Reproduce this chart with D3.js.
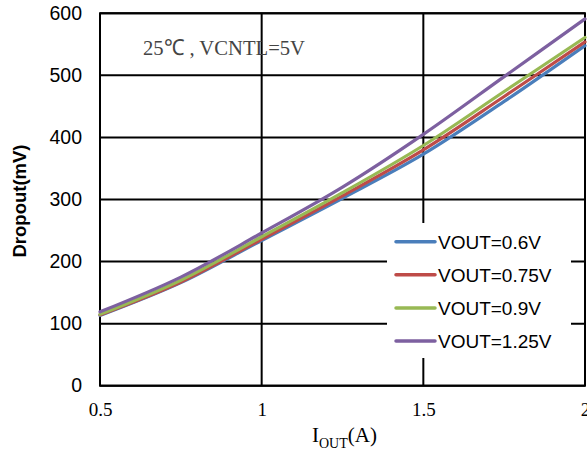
<!DOCTYPE html>
<html>
<head>
<meta charset="utf-8">
<script src="https://cdn.jsdelivr.net/npm/d3@7/dist/d3.min.js"></script>
<style>
  html, body { margin: 0; padding: 0; background: #fff; }
  svg { display: block; }
</style>
</head>
<body>
<svg id="chart" width="587" height="451"></svg>
<script>
// Output current (A)
const currents = [0.5, 0.75, 1, 1.25, 1.5, 1.75, 2];
// Dropout voltage (mV) per output voltage setting
const vout060 = [113, 166, 234, 302, 373, 458, 548];
const vout075 = [114, 167, 236, 306, 380, 466, 554];
const vout090 = [115, 170, 240, 311, 387, 474, 561];
const vout125 = [119, 175, 246, 320, 405, 498, 591];
const seriesNames = ["VOUT=0.6V", "VOUT=0.75V", "VOUT=0.9V", "VOUT=1.25V"];
const seriesColors = ["#4A7EBB", "#BE4B48", "#98B954", "#7D60A0"];
const xTicks = [0.5, 1, 1.5, 2];
const yTicks = [0, 100, 200, 300, 400, 500, 600];

const series = [vout060, vout075, vout090, vout125].map((vals, i) => ({
  name: seriesNames[i],
  color: seriesColors[i],
  points: vals.map((v, j) => [currents[j], v])
}));

const svg = d3.select("#chart");
const plotL = 100, plotR = 585, plotT = 13.3, plotB = 385.7;

const x = d3.scaleLinear().domain([0.5, 2]).range([plotL, plotR]);
const y = d3.scaleLinear().domain([0, 600]).range([plotB, plotT]);

// Grid lines
const grid = svg.append("g").attr("stroke", "#000").attr("stroke-width", 2);
grid.selectAll("line.h").data(yTicks).join("line")
  .attr("class", "h")
  .attr("x1", plotL).attr("x2", plotR)
  .attr("y1", d => y(d)).attr("y2", d => y(d));
grid.selectAll("line.v").data(xTicks).join("line")
  .attr("class", "v")
  .attr("x1", d => x(d)).attr("x2", d => x(d))
  .attr("y1", plotT).attr("y2", plotB);

// Legend backdrop hides grid lines beneath it
svg.append("rect")
  .attr("x", 387).attr("y", 223).attr("width", 184).attr("height", 135)
  .attr("fill", "#fff");

// Plot frame
svg.append("rect")
  .attr("x", plotL).attr("y", plotT)
  .attr("width", plotR - plotL).attr("height", plotB - plotT)
  .attr("fill", "none").attr("stroke", "#000").attr("stroke-width", 2);

// Y axis labels
const yAxis = d3.axisLeft(y).tickValues(yTicks).tickSize(0).tickPadding(18);
const gy = svg.append("g").attr("transform", `translate(${plotL},0)`).call(yAxis);
gy.select(".domain").remove();
gy.selectAll("text")
  .attr("font-family", "Liberation Sans, Arial, sans-serif")
  .attr("font-size", 19.5).attr("fill", "#000");

// X axis labels
const xAxis = d3.axisBottom(x).tickValues(xTicks).tickSize(0).tickPadding(17)
  .tickFormat(d3.format("~g"));
const gx = svg.append("g").attr("transform", `translate(0,${plotB})`).call(xAxis);
gx.select(".domain").remove();
gx.selectAll("text")
  .attr("font-family", "Liberation Serif, Times New Roman, serif")
  .attr("font-size", 19).attr("fill", "#000");

// Curves
const line = d3.line()
  .x(d => x(d[0])).y(d => y(d[1]))
  .curve(d3.curveCatmullRom.alpha(0.5));
svg.append("g").selectAll("path").data(series).join("path")
  .attr("d", d => line(d.points))
  .attr("fill", "none")
  .attr("stroke", d => d.color)
  .attr("stroke-width", 3.2)
  .attr("stroke-linecap", "round");

// Condition note
svg.append("text")
  .attr("x", 143).attr("y", 55)
  .attr("font-family", "Liberation Serif, Times New Roman, serif")
  .attr("font-size", 22)
  .attr("textLength", 162).attr("lengthAdjust", "spacingAndGlyphs")
  .attr("fill", "#444")
  .text("25℃ , VCNTL=5V");

// Legend
const legend = svg.append("g");
const rows = legend.selectAll("g").data(series).join("g")
  .attr("transform", (d, i) => `translate(0,${241.7 + i * 33.1})`);
rows.append("line")
  .attr("x1", 396).attr("x2", 435)
  .attr("stroke", d => d.color).attr("stroke-width", 3.5)
  .attr("stroke-linecap", "round");
rows.append("text")
  .attr("x", 438).attr("y", 7)
  .attr("font-family", "Liberation Sans, Arial, sans-serif")
  .attr("font-size", 19).attr("fill", "#000")
  .text(d => d.name);

// Axis titles
svg.append("text")
  .attr("transform", "translate(26,201) rotate(-90)")
  .attr("text-anchor", "middle")
  .attr("font-family", "Liberation Sans, Arial, sans-serif")
  .attr("font-weight", "bold").attr("font-size", 18.5)
  .attr("fill", "#000")
  .text("Dropout(mV)");

const xt = svg.append("text")
  .attr("x", 312).attr("y", 442)
  .attr("font-family", "Liberation Serif, Times New Roman, serif")
  .attr("font-size", 21).attr("fill", "#000");
xt.append("tspan").text("I");
xt.append("tspan").attr("dy", 6).attr("font-size", 14).text("OUT");
xt.append("tspan").attr("dy", -6).text("(A)");
</script>
</body>
</html>
